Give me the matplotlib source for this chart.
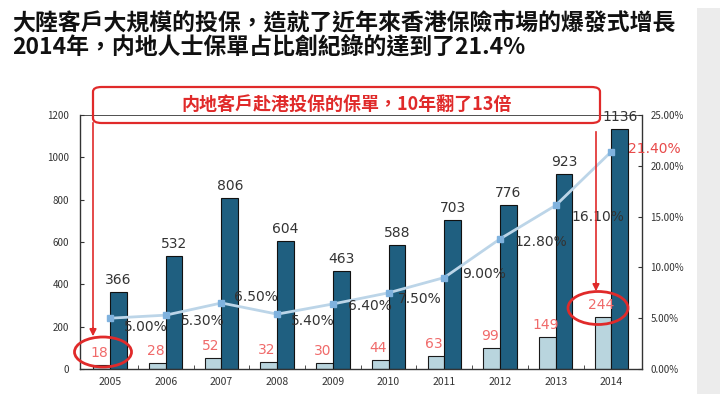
import matplotlib
matplotlib.use("Agg")
import matplotlib.pyplot as plt
from matplotlib.patches import FancyBboxPatch, Ellipse, Rectangle
from matplotlib.ticker import FuncFormatter, FixedLocator
import numpy as np

plt.rcParams['font.family'] = ['Noto Sans CJK TC', 'DejaVu Sans']

years = ['2005', '2006', '2007', '2008', '2009', '2010', '2011', '2012', '2013', '2014']
total_policies = [366, 532, 806, 604, 463, 588, 703, 776, 923, 1136]
mainland_policies = [18, 28, 52, 32, 30, 44, 63, 99, 149, 244]
mainland_share = [5.0, 5.3, 6.5, 5.4, 6.4, 7.5, 9.0, 12.8, 16.1, 21.4]
share_labels = ['5.00%', '5.30%', '6.50%', '5.40%', '6.40%', '7.50%', '9.00%', '12.80%', '16.10%', '21.40%']
left_ticks = [0, 200, 400, 600, 800, 1000, 1200]
right_ticks = [0, 5, 10, 15, 20, 25]

title1 = '大陸客戶大規模的投保，造就了近年來香港保險市場的爆發式增長'
title2 = '2014年，内地人士保單占比創紀錄的達到了21.4%'
box_text = '内地客戶赴港投保的保單，10年翻了13倍'

W, H = 720, 394
fig = plt.figure(figsize=(W / 100, H / 100), dpi=100)
fig.patch.set_facecolor('white')

# light gray strip at right edge
fig.add_artist(Rectangle((697 / W, 0), 23 / W, 1 - 8 / H, transform=fig.transFigure,
                         facecolor='#ececec', edgecolor='none', zorder=0))

ax = fig.add_axes([80 / W, 1 - 369 / H, (642 - 80) / W, (369 - 115) / H])
x = np.arange(len(years))
bw = 0.3
ax.bar(x - bw / 2, mainland_policies, bw, color='#b9d5de', edgecolor='#1a1a1a', linewidth=0.8, zorder=2)
ax.bar(x + bw / 2, total_policies, bw, color='#1f5f80', edgecolor='#111111', linewidth=0.8, zorder=2)
ax.set_xlim(-0.54, 9.55)
ax.set_ylim(0, 1200)
ax.set_yticks(left_ticks)
ax.set_yticklabels([str(t) for t in left_ticks])
ax.set_xticks(x)
ax.set_xticklabels(years)
ax.xaxis.set_minor_locator(FixedLocator(x[:-1] + 0.5))
ax.tick_params(axis='x', which='major', length=0, labelsize=7.5, colors='#333333', pad=6)
ax.tick_params(axis='x', which='minor', length=3, direction='in', color='#333333')
ax.tick_params(axis='y', labelsize=7, colors='#333333', direction='in', length=3, pad=8)
for s in ['left', 'bottom', 'right', 'top']:
    ax.spines[s].set_color('#333333')
    ax.spines[s].set_linewidth(1.0)
ax.spines['top'].set_linewidth(0.6)

for i, v in enumerate(total_policies):
    ax.annotate(str(v), (x[i] + bw / 2, v), xytext=(0, 5), textcoords='offset pixels',
                ha='center', va='bottom', fontsize=10, color='#333333', family='DejaVu Sans')
for i, v in enumerate(mainland_policies):
    ax.annotate(str(v), (x[i] - bw / 2, v), xytext=(-2, 12), textcoords='offset pixels',
                ha='center', va='center', fontsize=10, color='#f06a6a', family='DejaVu Sans')

ax2 = ax.twinx()
ax2.set_ylim(0, 25)
ax2.set_yticks(right_ticks)
ax2.yaxis.set_major_formatter(FuncFormatter(lambda v, p: '%.2f%%' % v))
ax2.tick_params(axis='y', labelsize=7, colors='#333333', direction='in', length=3, pad=6)
for s in ['left', 'bottom', 'right', 'top']:
    ax2.spines[s].set_visible(False)
ax2.plot(x, mainland_share, color='#bcd5e8', linewidth=2, marker='s', markersize=4,
         markerfacecolor='#7fb2de', markeredgecolor='#7fb2de', zorder=3)

label_offsets = [(36, -9), (37, -6), (34, 6), (36, -7), (37, -2), (31, -6), (40, 4), (41, -3), (42, -12), (43, 3)]
for i, (v, lab) in enumerate(zip(mainland_share, share_labels)):
    col = '#e84a4a' if i == len(share_labels) - 1 else '#333333'
    ax2.annotate(lab, (x[i], v), xytext=label_offsets[i], textcoords='offset pixels',
                 ha='center', va='center', fontsize=10, color=col, family='DejaVu Sans')

# titles
fig.text(12 / W, 1 - 23 / H, title1, fontsize=16.5, fontweight='bold', color='#111111', va='center', ha='left')
fig.text(12 / W, 1 - 47 / H, title2, fontsize=16.5, fontweight='bold', color='#111111', va='center', ha='left')

red = '#e02a2a'
box = FancyBboxPatch((93 / W, 1 - 123 / H), 507 / W, 36 / H, boxstyle='round,pad=0,rounding_size=0.012',
                     transform=fig.transFigure, fill=False, edgecolor=red, linewidth=1.6, zorder=5)
fig.add_artist(box)
fig.text(347 / W, 1 - 104 / H, box_text, fontsize=13, fontweight='bold', color=red, ha='center', va='center')

fig.add_artist(plt.Line2D([93 / W, 93 / W], [1 - 123 / H, 1 - 332 / H], transform=fig.transFigure, color=red, lw=1.2))
fig.add_artist(plt.Line2D([596 / W, 596 / W], [1 - 132 / H, 1 - 288 / H], transform=fig.transFigure, color=red, lw=1.2))
ax.annotate('', xy=(93 / W, 1 - 339 / H), xytext=(93 / W, 1 - 325 / H), xycoords='figure fraction',
            textcoords='figure fraction', arrowprops=dict(arrowstyle='-|>', color=red, lw=1.2, mutation_scale=10))
ax.annotate('', xy=(596 / W, 1 - 294 / H), xytext=(596 / W, 1 - 280 / H), xycoords='figure fraction',
            textcoords='figure fraction', arrowprops=dict(arrowstyle='-|>', color=red, lw=1.2, mutation_scale=10))

fig.add_artist(Ellipse((103 / W, 1 - 352 / H), 57 / W, 30 / H, transform=fig.transFigure,
                       fill=False, edgecolor=red, linewidth=2))
fig.add_artist(Ellipse((598 / W, 1 - 308 / H), 60 / W, 33 / H, transform=fig.transFigure,
                       fill=False, edgecolor=red, linewidth=2))

fig.savefig('out.png', dpi=100)
